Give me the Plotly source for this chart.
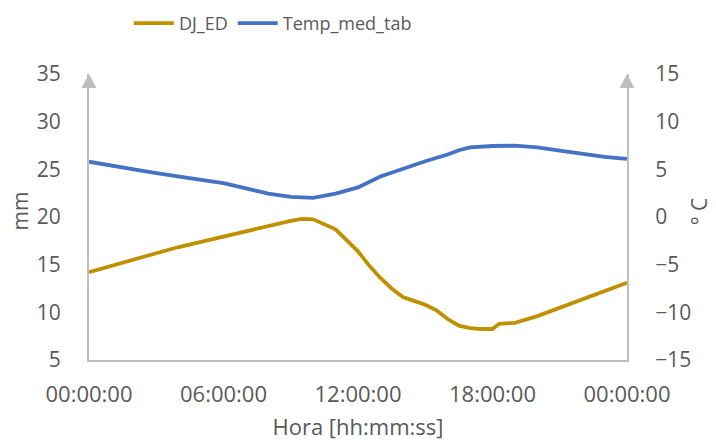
import plotly.graph_objects as go

# Time of day in hours
hours_dj = [0, 1, 2, 3, 4, 5, 6, 7, 8, 9, 9.5, 10, 11, 12, 12.5, 13, 13.5, 14,
            14.5, 15, 15.5, 16, 16.5, 17, 17.5, 18, 18.3, 19, 20, 21, 22, 23, 24]
dj_ed = [14.2, 14.9, 15.55, 16.2, 16.85, 17.4, 17.95, 18.55, 19.1, 19.6, 19.8,
         19.75, 18.7, 16.4, 14.9, 13.6, 12.5, 11.6, 11.2, 10.8, 10.2, 9.3, 8.6,
         8.35, 8.25, 8.25, 8.8, 8.9, 9.6, 10.5, 11.4, 12.25, 13.1]

hours_temp = [0, 1, 2, 3, 4, 5, 6, 7, 8, 9, 9.75, 10, 11, 12, 13, 14, 15, 16,
              16.5, 17, 18, 19, 20, 21, 22, 23, 24]
temp_med_tab = [5.8, 5.35, 5.0, 4.6, 4.2, 3.9, 3.55, 2.95, 2.45, 2.1, 1.96,
                2.0, 2.45, 3.1, 4.25, 5.1, 5.85, 6.55, 7.0, 7.3, 7.45, 7.48,
                7.3, 6.95, 6.6, 6.3, 6.1]

tick_hours = [0, 6, 12, 18, 24]
tick_labels = ["00:00:00", "06:00:00", "12:00:00", "18:00:00", "00:00:00"]

FONT = "Open Sans"
TXT = "#595959"
AX = "#BFBFBF"
FS = 21

fig = go.Figure()
fig.add_trace(go.Scatter(x=hours_dj, y=dj_ed, name="DJ_ED", mode="lines",
                         line=dict(color="#BF9000", width=3.8)))
fig.add_trace(go.Scatter(x=hours_temp, y=temp_med_tab, name="Temp_med_tab",
                         mode="lines", yaxis="y2",
                         line=dict(color="#4472C4", width=3.8)))

# arrowheads at the top of both vertical axes
for xp in (0, 1):
    fig.add_shape(type="path", xref="paper", yref="paper",
                  path=f"M {xp-0.014} 0.951 L {xp} 1.0 L {xp+0.014} 0.951 Z",
                  fillcolor=AX, line=dict(width=0))

# vertical axis titles
for text, xp in (("mm", -0.128), ("° C", 1.134)):
    fig.add_annotation(text=text, xref="paper", yref="paper", x=xp, y=0.52,
                       xanchor="center", yanchor="middle", textangle=-90,
                       showarrow=False, font=dict(size=FS, color=TXT))

fig.update_layout(
    width=716, height=441,
    margin=dict(l=89, r=89, t=74, b=81, autoexpand=False),
    paper_bgcolor="white", plot_bgcolor="white",
    font=dict(family=FONT, color=TXT, size=FS),
    showlegend=True,
    legend=dict(orientation="h", xref="container", x=0.18, xanchor="left",
                yref="container", y=0.947, yanchor="middle",
                font=dict(size=18, color=TXT), itemwidth=40,
                tracegroupgap=0, bgcolor="rgba(0,0,0,0)"),
    xaxis=dict(range=[0, 24], tickvals=tick_hours, ticktext=tick_labels,
               showgrid=False, zeroline=False, showline=True, linecolor=AX,
               linewidth=2, ticks="", ticklabelstandoff=14,
               tickfont=dict(size=FS + 1, color=TXT),
               title=dict(text="Hora [hh:mm:ss]", standoff=14,
                          font=dict(size=FS + 1, color=TXT))),
    yaxis=dict(range=[5, 35], dtick=5, showgrid=False, zeroline=False,
               showline=True, linecolor=AX, linewidth=2, ticks="",
               ticklabelstandoff=22, tickfont=dict(size=FS, color=TXT)),
    yaxis2=dict(range=[-15, 15], dtick=5, overlaying="y", side="right",
                showgrid=False, zeroline=False, showline=True, linecolor=AX,
                linewidth=2, ticks="", ticklabelstandoff=22,
                tickfont=dict(size=FS, color=TXT)),
)

fig.write_html("out.html")
